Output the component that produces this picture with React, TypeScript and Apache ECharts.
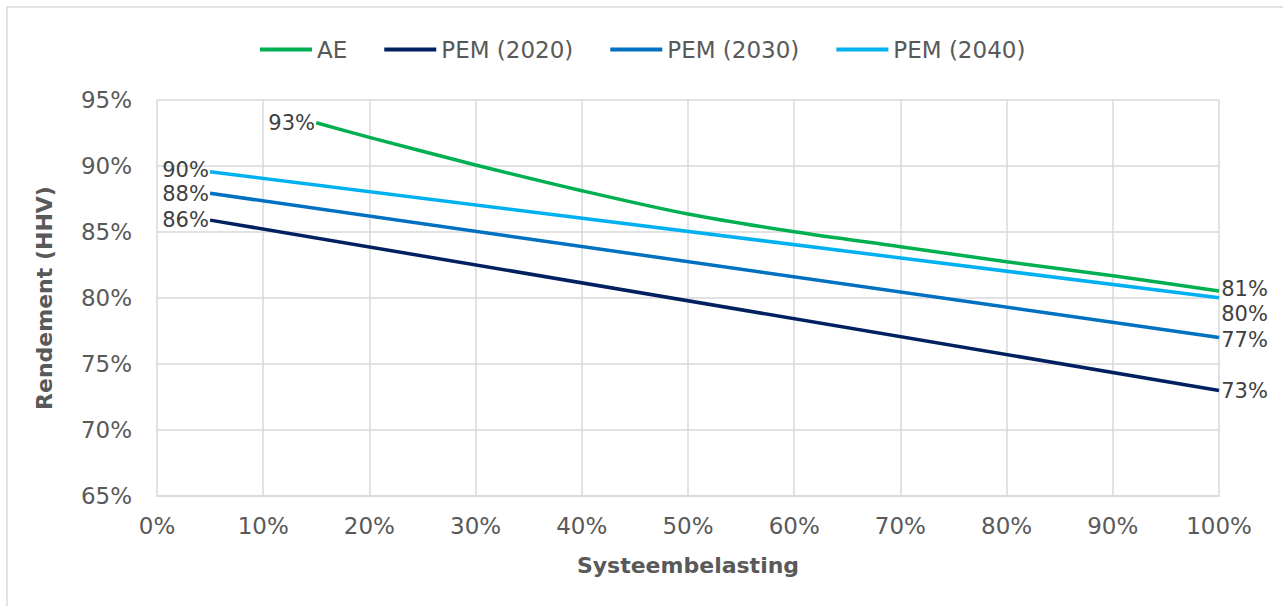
import React, { useEffect, useRef } from "react";
import * as echarts from "echarts";

const xTicks = [0, 10, 20, 30, 40, 50, 60, 70, 80, 90, 100];
const seriesNames = ["AE", "PEM (2020)", "PEM (2030)", "PEM (2040)"];
const seriesColors = ["#00b050", "#002060", "#0070c0", "#00b0f0"];

const aeLoad = [15, 20, 30, 40, 50, 60, 70, 80, 90, 100];
const aeEff = [93.28, 92.17, 90.08, 88.13, 86.36, 85.02, 83.89, 82.75, 81.69, 80.53];

const pemLoad = [5, 100];
const pem2020Eff = [85.9, 73.0];
const pem2030Eff = [87.93, 77.0];
const pem2040Eff = [89.57, 80.02];

const FONT = "DejaVu Sans";
const TXT = "#595959";
const legendTextWidths = [30, 139, 139, 139];
// vertical nudges (px) of the first / last data label of each series
const startDy = [0, 0, 1, -2];
const endDy = [-2, 1, 2, 16];

function buildData(xs: number[], ys: number[]) {
  return xs.map((x, i) => {
    const item: any = { value: [x, ys[i]] };
    if (i === 0) {
      item.label = { show: true, position: "left", distance: 1 };
    } else if (i === xs.length - 1) {
      item.label = { show: true, position: "right", distance: 2 };
    }
    return item;
  });
}

export default function App() {
  const ref = useRef<HTMLDivElement>(null);
  useEffect(() => {
    if (!ref.current) return;
    const chart = echarts.init(ref.current, undefined, { renderer: "svg" });
    const xs = [aeLoad, pemLoad, pemLoad, pemLoad];
    const ys = [aeEff, pem2020Eff, pem2030Eff, pem2040Eff];
    const datasets = xs.map((x, i) => buildData(x, ys[i]));
    chart.setOption({
      animation: false,
      backgroundColor: "#ffffff",
      textStyle: { fontFamily: FONT },
      graphic: [
        {
          type: "rect",
          shape: { x: 7, y: 7, width: 1400, height: 800 },
          style: { fill: "none", stroke: "#d9d9d9", lineWidth: 1.5 },
          silent: true,
        },
      ],
      legend: {
        top: 33,
        left: 255,
        itemWidth: 52,
        itemHeight: 4,
        itemGap: 37,
        icon: "rect",
        textStyle: { fontFamily: FONT, fontSize: 23, color: TXT, padding: [0, 0, 0, 0] },
        data: seriesNames.map((n, i) => ({
          name: n,
          textStyle: { width: legendTextWidths[i] },
        })),
      },
      grid: { left: 157, right: 64, top: 100, bottom: 110, containLabel: false },
      xAxis: {
        type: "value",
        min: 0,
        max: 100,
        interval: 10,
        name: "Systeembelasting",
        nameLocation: "middle",
        nameGap: 58,
        nameTextStyle: { fontFamily: FONT, fontSize: 22, fontWeight: "bold", color: TXT },
        axisLine: { show: true, lineStyle: { color: "#d9d9d9", width: 1.5 } },
        axisTick: { show: false },
        axisLabel: { formatter: "{value}%", fontFamily: FONT, fontSize: 23, color: TXT, margin: 18 },
        splitLine: { show: true, lineStyle: { color: "#d9d9d9", width: 1.5 } },
      },
      yAxis: {
        type: "value",
        min: 65,
        max: 95,
        interval: 5,
        name: "Rendement (HHV)",
        nameLocation: "middle",
        nameGap: 102,
        nameRotate: 90,
        nameTextStyle: { fontFamily: FONT, fontSize: 22, fontWeight: "bold", color: TXT },
        axisLine: { show: false },
        axisTick: { show: false },
        axisLabel: { formatter: "{value}%", fontFamily: FONT, fontSize: 23, color: TXT, margin: 25 },
        splitLine: { show: true, lineStyle: { color: "#d9d9d9", width: 1.5 } },
      },
      series: seriesNames.map((name, i) => ({
        name,
        type: "line",
        data: datasets[i],
        smooth: i === 0 ? 0.3 : false,
        showSymbol: true,
        symbol: "circle",
        symbolSize: 0.5,
        color: seriesColors[i],
        itemStyle: { color: seriesColors[i] },
        lineStyle: { width: 3.5, color: seriesColors[i] },
        label: {
          show: false,
          fontFamily: FONT,
          fontSize: 21,
          lineHeight: 21,
          color: "#404040",
          formatter: (p: any) => Math.round(p.value[1]) + "%",
        },
        labelLayout: (p: any) => {
          const last = xs[i].length - 1;
          if (p.dataIndex === 0) return { dy: startDy[i], hideOverlap: false };
          if (p.dataIndex === last) return { dy: endDy[i], hideOverlap: false };
          return { hideOverlap: false };
        },
      })),
    });
    return () => chart.dispose();
  }, []);
  return (
    <div
      ref={ref}
      style={{ position: "absolute", left: 0, top: 0, width: 1283, height: 606 }}
    />
  );
}
